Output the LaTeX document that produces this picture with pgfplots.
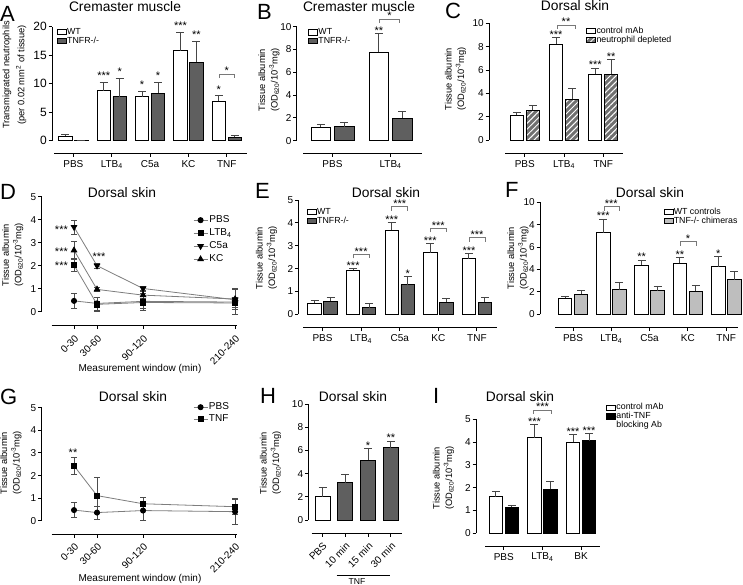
\documentclass[border=0pt]{standalone}
\usepackage{fontspec}
\setmainfont{Liberation Sans}
\usepackage{pgfplots}
\pgfplotsset{compat=1.18}
\usetikzlibrary{patterns.meta}

\definecolor{darkbar}{RGB}{95,95,95}
\definecolor{lightbar}{RGB}{190,190,190}
\definecolor{hatchbar}{RGB}{112,112,112}
\definecolor{linegray}{RGB}{125,125,125}
\definecolor{brk}{RGB}{120,120,120}
\definecolor{errc}{RGB}{70,70,70}

\newcommand{\fsz}[1]{\fontsize{#1}{#1}\selectfont}
% stars just above a point
\newcommand{\st}[3]{\node[font=\fsz{11}, inner sep=0pt, anchor=base] at ([xshift=#1, yshift=-0.8pt]axis cs:#2) {#3};}
% stars centred on a point
\newcommand{\stc}[4]{\node[font=\fsz{11}, inner sep=0pt, anchor=#1] at ([xshift=#2, yshift=-6.4pt]axis cs:#3) {#4};}
% significance bracket
\newcommand{\sigbr}[4]{\draw[brk, line width=0.7pt] ([xshift=#1, yshift=-4pt]axis cs:#3,#4) -- ([xshift=#1]axis cs:#3,#4) -- ([xshift=#2]axis cs:#3,#4) -- ([xshift=#2, yshift=-4pt]axis cs:#3,#4);}

\pgfplotsset{
  prism/.style={
    scale only axis, anchor=south west,
    axis x line*=bottom, axis y line*=left,
    axis line style={line width=0.9pt, black},
    x axis line style={-}, y axis line style={-},
    tick align=outside, major tick length=3.5pt,
    tick style={line width=0.9pt, black},
    tick label style={font=\fsz{10}},
    yticklabel style={inner sep=1.5pt},
    /pgf/number format/assume math mode=true,
    enlargelimits=false, clip=false,
  },
  prismbar/.style={prism, ybar, bar width=13.5pt,
    legend image code/.code={\draw[##1] (0pt,-2.6pt) rectangle (9pt,2.6pt);},
    legend style={draw=none, fill=none, font=\fsz{8.8}, inner sep=0pt, row sep=0pt,
      nodes={inner sep=0.4pt, text height=6.4pt, text depth=1.6pt}, anchor=north west},
    legend cell align=left,
  },
  linlegend/.style={
    legend image code/.code={\draw[mark repeat=2, mark phase=2, ##1] plot coordinates {(0pt,0pt) (7pt,0pt) (14pt,0pt)};},
    legend style={draw=none, fill=none, font=\fsz{10}, inner sep=0pt, row sep=0pt,
      nodes={inner sep=1.5pt, text height=7.5pt, text depth=2.5pt}, anchor=north west},
    legend cell align=left,
  },
  wbar/.style={draw=black, line width=0.9pt, fill=white},
  dbar/.style={draw=black, line width=0.9pt, fill=darkbar},
  lbar/.style={draw=black, line width=0.9pt, fill=lightbar},
  kbar/.style={draw=black, line width=0.9pt, fill=black},
  hbar/.style={draw=black, line width=0.9pt, preaction={fill=hatchbar},
    pattern={Lines[angle=45, distance=4.2pt, line width=1pt]}, pattern color=white},
  ebar/.style={error bars/y dir=plus, error bars/y explicit,
    error bars/error bar style={line width=0.9pt, errc},
    error bars/error mark options={rotate=90, line width=0.9pt, errc, mark size=4pt}},
  lin/.style={color=linegray, line width=0.8pt, mark size=2.6pt,
    error bars/y dir=both, error bars/y explicit,
    error bars/error bar style={line width=0.6pt, black!70},
    error bars/error mark options={rotate=90, line width=0.6pt, black!70, mark size=3pt}},
}

\begin{document}
\begin{tikzpicture}
\useasboundingbox (0pt,0pt) rectangle (743pt,-585pt);

% ---------------- A ----------------
\begin{axis}[prismbar, at={(52pt,-153.3pt)}, width=195pt, height=126.6pt,
  xmin=-0.558, xmax=4.527, ymin=-2.21, ymax=20, ytick={0,5,10,15,20},
  yticklabel style={font=\fsz{12}},
  xtick={0,1,2,3,4}, xticklabels={PBS,LTB\textsubscript{4},C5a,KC,TNF},
  x axis line style={shorten <=2pt}, y axis line style={shorten <=12.6pt},
  legend style={at={(0.024,0.994)}}]
\addplot[wbar, ebar, bar shift=-8pt] coordinates {(0,0.82) +- (0,0.29) (1,8.77) +- (0,1.52) (2,7.72) +- (0,0.88) (3,15.79) +- (0,3.21) (4,6.96) +- (0,0.93)};
\addlegendentry{WT}
\addplot[dbar, ebar, bar shift=8pt] coordinates {(0,0.05) +- (0,0) (1,7.72) +- (0,3.22) (2,8.3) +- (0,1.93) (3,13.8) +- (0,3.57) (4,0.58) +- (0,0.41)};
\addlegendentry{TNFR-/-}
\st{-8pt}{1,10.9}{***}
\st{8pt}{1,11.6}{*}
\st{-8pt}{2,9.3}{*}
\st{8pt}{2,10.9}{*}
\st{-8pt}{3,19.6}{***}
\st{8pt}{3,18.0}{**}
\st{-8pt}{4,8.5}{*}
\sigbr{-7.5pt}{7.5pt}{4}{11.7}
\st{0pt}{4,11.7}{*}
\end{axis}

% ---------------- B ----------------
\begin{axis}[prismbar, at={(296.7pt,-153.3pt)}, width=125pt, height=126.6pt,
  xmin=-0.616, xmax=1.535, ymin=-1.105, ymax=10, ytick={0,2,4,6,8,10},
  xtick={0,1}, xticklabels={PBS,LTB\textsubscript{4}}, bar width=19.5pt,
  x axis line style={shorten <=6.3pt}, y axis line style={shorten <=12.6pt},
  legend style={at={(0.09,0.991)}}]
\addplot[wbar, ebar, bar shift=-11.7pt] coordinates {(0,1.18) +- (0,0.28) (1,7.75) +- (0,1.67)};
\addlegendentry{WT}
\addplot[dbar, ebar, bar shift=11.7pt] coordinates {(0,1.23) +- (0,0.38) (1,1.99) +- (0,0.55)};
\addlegendentry{TNFR-/-}
\st{-11.7pt}{1,9.42}{**}
\sigbr{-11.7pt}{9pt}{1}{10.67}
\st{-1pt}{1,10.67}{*}
\end{axis}

% ---------------- C ----------------
\begin{axis}[prismbar, at={(489pt,-153.3pt)}, width=133.7pt, height=130pt,
  xmin=-0.913, xmax=2.497, ymin=-1.14, ymax=10, ytick={0,2,4,6,8,10},
  xtick={0,1,2}, xticklabels={PBS,LTB\textsubscript{4},TNF}, bar width=13.3pt,
  x axis line style={shorten <=16pt}, y axis line style={shorten <=13.3pt},
  legend style={at={(0.7255,0.975)}}]
\addplot[wbar, ebar, bar shift=-8pt] coordinates {(0,2.14) +- (0,0.26) (1,8.23) +- (0,0.54) (2,5.63) +- (0,0.54)};
\addlegendentry{control mAb}
\addplot[hbar, ebar, bar shift=8pt] coordinates {(0,2.57) +- (0,0.37) (1,3.51) +- (0,0.89) (2,5.63) +- (0,1.28)};
\addlegendentry{neutrophil depleted}
\st{-8pt}{1,8.77}{***}
\sigbr{-7pt}{11pt}{1}{9.85}
\st{2pt}{1,9.85}{**}
\st{-8pt}{2,6.17}{***}
\st{8pt}{2,6.91}{**}
\end{axis}

% ---------------- D ----------------
\begin{axis}[prism, linlegend, at={(41.5pt,-325.7pt)}, width=195.2pt, height=129pt,
  xmin=-27.4, xmax=227.1, ymin=-0.609, ymax=5, ytick={0,1,2,3,4,5},
  xtick={15,45,105,225}, xticklabels={0-30,30-60,90-120,210-240},
  xticklabel style={rotate=45, anchor=north east},
  x axis line style={shorten <=10.2pt}, y axis line style={shorten <=14pt},
  legend style={at={(0.776,0.87)}}]
\addplot[lin, mark=*, mark options={solid, black}] coordinates {(15,0.47) +- (0,0.32) (45,0.36) +- (0,0.28) (105,0.45) +- (0,0.37) (225,0.42) +- (0,0.55)};
\addlegendentry{PBS}
\addplot[lin, mark=square*, mark options={solid, black}] coordinates {(15,2.03) +- (0,0.28) (45,0.32) +- (0,0.3) (105,0.40) +- (0,0.25) (225,0.38) +- (0,0.2)};
\addlegendentry{LTB\textsubscript{4}}
\addplot[lin, mark=triangle*, mark size=3.2pt, mark options={solid, black, rotate=180}] coordinates {(15,3.68) +- (0,0.3) (45,2.0) +- (0,0.1) (105,1.01) +- (0,0.1) (225,0.52) +- (0,0.1)};
\addlegendentry{C5a}
\addplot[lin, mark=triangle*, mark size=3.2pt, mark options={solid, black}] coordinates {(15,2.67) +- (0,0.4) (45,0.97) +- (0,0.1) (105,0.72) +- (0,0.15) (225,0.55) +- (0,0.45)};
\addlegendentry{KC}
\stc{base east}{-6pt}{15,3.68}{***}
\stc{base east}{-6pt}{15,2.71}{***}
\stc{base east}{-6pt}{15,2.1}{***}
\stc{base}{2pt}{45,2.5}{***}
\end{axis}

% ---------------- E ----------------
\begin{axis}[prismbar, at={(298.3pt,-327.7pt)}, width=198.7pt, height=127.7pt,
  xmin=-0.627, xmax=4.52, ymin=-0.586, ymax=5, ytick={0,1,2,3,4,5},
  xtick={0,1,2,3,4}, xticklabels={PBS,LTB\textsubscript{4},C5a,KC,TNF},
  x axis line style={shorten <=5pt}, y axis line style={shorten <=13.4pt},
  legend style={at={(0.042,0.941)}}]
\addplot[wbar, ebar, bar shift=-8pt] coordinates {(0,0.48) +- (0,0.13) (1,1.93) +- (0,0.08) (2,3.68) +- (0,0.33) (3,2.69) +- (0,0.40) (4,2.44) +- (0,0.22)};
\addlegendentry{WT}
\addplot[dbar, ebar, bar shift=8pt] coordinates {(0,0.58) +- (0,0.16) (1,0.29) +- (0,0.18) (2,1.30) +- (0,0.36) (3,0.53) +- (0,0.16) (4,0.53) +- (0,0.20)};
\addlegendentry{TNFR-/-}
\st{-8pt}{1,2.01}{***}
\sigbr{-8pt}{8pt}{1}{2.62}
\st{0pt}{1,2.62}{***}
\st{-8pt}{2,4.01}{***}
\sigbr{-8pt}{8pt}{2}{4.71}
\st{0pt}{2,4.71}{***}
\st{8pt}{2,1.66}{*}
\st{-8pt}{3,3.09}{***}
\sigbr{-8pt}{8pt}{3}{3.76}
\st{0pt}{3,3.76}{***}
\st{-8pt}{4,2.66}{***}
\sigbr{-8pt}{8pt}{4}{3.35}
\st{0pt}{4,3.35}{***}
\end{axis}

% ---------------- F ----------------
\begin{axis}[prismbar, at={(540pt,-327.7pt)}, width=198pt, height=125.4pt,
  xmin=-0.862, xmax=4.308, ymin=-1.196, ymax=10, ytick={0,2,4,6,8,10},
  yticklabels={0,2,4,6,4,10},
  xtick={0,1,2,3,4}, xticklabels={PBS,LTB\textsubscript{4},C5a,KC,TNF},
  x axis line style={shorten <=15pt}, y axis line style={shorten <=13.4pt},
  legend style={at={(0.623,0.958)}}]
\addplot[wbar, ebar, bar shift=-8pt] coordinates {(0,1.43) +- (0,0.15) (1,7.29) +- (0,1.22) (2,4.40) +- (0,0.45) (3,4.55) +- (0,0.51) (4,4.23) +- (0,0.95)};
\addlegendentry{WT controls}
\addplot[lbar, ebar, bar shift=8pt] coordinates {(0,1.79) +- (0,0.35) (1,2.20) +- (0,0.66) (2,2.11) +- (0,0.42) (3,2.08) +- (0,0.51) (4,3.07) +- (0,0.74)};
\addlegendentry{TNF-/- chimeras}
\st{-8pt}{1,8.51}{***}
\sigbr{-7pt}{8pt}{1}{9.61}
\st{0pt}{1,9.61}{***}
\st{-8pt}{2,4.85}{**}
\st{-8pt}{3,5.06}{**}
\sigbr{-8pt}{8pt}{3}{6.48}
\st{0pt}{3,6.48}{*}
\st{-8pt}{4,5.18}{*}
\end{axis}

% ---------------- G ----------------
\begin{axis}[prism, linlegend, at={(41.5pt,-534pt)}, width=195.2pt, height=126.3pt,
  xmin=-27.4, xmax=227.1, ymin=-0.588, ymax=5, ytick={0,1,2,3,4,5},
  xtick={15,45,105,225}, xticklabels={0-30,30-60,90-120,210-240},
  xticklabel style={rotate=45, anchor=north east},
  x axis line style={shorten <=10.2pt}, y axis line style={shorten <=13.3pt},
  legend style={at={(0.776,1.053)}, nodes={inner sep=1pt}}]
\addplot[lin, mark=*, mark options={solid, black}] coordinates {(15,0.47) +- (0,0.33) (45,0.36) +- (0,0.28) (105,0.45) +- (0,0.42) (225,0.40) +- (0,0.55)};
\addlegendentry{PBS}
\addplot[lin, mark=square*, mark options={solid, black}] coordinates {(15,2.43) +- (0,0.39) (45,1.11) +- (0,0.8) (105,0.75) +- (0,0.27) (225,0.62) +- (0,0.35)};
\addlegendentry{TNF}
\stc{base}{-1pt}{15,3.13}{**}
\end{axis}

% ---------------- H ----------------
\begin{axis}[prismbar, at={(308.3pt,-533.3pt)}, width=93.4pt, height=129.3pt,
  xmin=-0.623, xmax=3.474, ymin=-1.147, ymax=10, ytick={0,2,4,6,8,10},
  xtick={0,1,2,3}, xticklabels={PBS,10 min,15 min,30 min}, bar width=15pt,
  xticklabel style={rotate=45, anchor=north east},
  x axis line style={shorten <=3.4pt}, y axis line style={shorten <=13.3pt}]
\addplot[wbar, ebar, bar shift=0pt] coordinates {(0,2.01) +- (0,0.81)};
\addplot[dbar, ebar, bar shift=0pt] coordinates {(1,3.22) +- (0,0.75) (2,5.17) +- (0,0.98) (3,6.24) +- (0,0.57)};
\st{0pt}{2,6.15}{*}
\st{0pt}{3,6.81}{**}
\end{axis}

% ---------------- I ----------------
\begin{axis}[prismbar, at={(476pt,-546pt)}, width=124pt, height=126.7pt,
  xmin=-0.72, xmax=2.49, ymin=-0.557, ymax=5, ytick={0,1,2,3,4,5},
  xtick={0,1,2}, xticklabels={PBS,LTB\textsubscript{4},BK},
  x axis line style={shorten <=9pt}, y axis line style={shorten <=12.7pt},
  legend style={at={(1.048,1.129)}}]
\addplot[wbar, ebar, bar shift=-8pt] coordinates {(0,1.61) +- (0,0.22) (1,4.19) +- (0,0.59) (2,3.99) +- (0,0.35)};
\addlegendentry{control mAb}
\addplot[kbar, ebar, bar shift=8pt] coordinates {(0,1.14) +- (0,0.10) (1,1.93) +- (0,0.36) (2,4.06) +- (0,0.33)};
\addlegendentry{anti-TNF}
\addlegendimage{empty legend}
\addlegendentry{blocking Ab}
\st{-8pt}{1,4.78}{***}
\sigbr{-9pt}{9pt}{1}{5.41}
\st{0pt}{1,5.41}{***}
\st{-8pt}{2,4.34}{***}
\st{8pt}{2,4.39}{***}
\end{axis}

% ---------------- letters, titles, labels ----------------
\begin{scope}[every node/.style={inner sep=0pt}]
\node[anchor=base west, font=\fsz{22}] at (0pt,-21.5pt) {A};
\node[anchor=base west, font=\fsz{22}] at (257pt,-20pt) {B};
\node[anchor=base west, font=\fsz{22}] at (445pt,-18.5pt) {C};
\node[anchor=base west, font=\fsz{22}] at (0pt,-200pt) {D};
\node[anchor=base west, font=\fsz{22}] at (255pt,-199pt) {E};
\node[anchor=base west, font=\fsz{22}] at (505pt,-198pt) {F};
\node[anchor=base west, font=\fsz{22}] at (0pt,-404.5pt) {G};
\node[anchor=base west, font=\fsz{22}] at (260pt,-403pt) {H};
\node[anchor=base west, font=\fsz{22}] at (433pt,-403pt) {I};

\node[anchor=base, font=\fsz{13.8}] at (125pt,-12pt) {Cremaster muscle};
\node[anchor=base, font=\fsz{13.8}] at (359pt,-12pt) {Cremaster muscle};
\node[anchor=base, font=\fsz{13.8}] at (575pt,-11pt) {Dorsal skin};
\node[anchor=base, font=\fsz{13.8}] at (122pt,-197pt) {Dorsal skin};
\node[anchor=base, font=\fsz{13.8}] at (386pt,-197pt) {Dorsal skin};
\node[anchor=base, font=\fsz{13.8}] at (650pt,-197pt) {Dorsal skin};
\node[anchor=base, font=\fsz{13.8}] at (133pt,-401pt) {Dorsal skin};
\node[anchor=base, font=\fsz{13.8}] at (353pt,-401pt) {Dorsal skin};
\node[anchor=base, font=\fsz{13.8}] at (520pt,-401pt) {Dorsal skin};

\node[rotate=90, align=center, font=\fontsize{9.3}{15}\selectfont] at (14.5pt,-75pt) {Transmigrated neutrophils\\(per 0.02 mm\textsuperscript{2} of tissue)};
\node[rotate=90, align=center, font=\fontsize{9.3}{12.5}\selectfont] at (269pt,-80pt) {Tissue albumin\\(OD\textsubscript{620}/10\textsuperscript{-3}mg)};
\node[rotate=90, align=center, font=\fontsize{9.3}{12.5}\selectfont] at (455.5pt,-79pt) {Tissue albumin\\(OD\textsubscript{620}/10\textsuperscript{-3}mg)};
\node[rotate=90, align=center, font=\fontsize{9.3}{12.5}\selectfont] at (12.8pt,-255pt) {Tissue albumin\\(OD\textsubscript{620}/10\textsuperscript{-3}mg)};
\node[rotate=90, align=center, font=\fontsize{9.3}{12.5}\selectfont] at (266.5pt,-258pt) {Tissue albumin\\(OD\textsubscript{620}/10\textsuperscript{-3}mg)};
\node[rotate=90, align=center, font=\fontsize{9.3}{12.5}\selectfont] at (518pt,-258pt) {Tissue albumin\\(OD\textsubscript{620}/10\textsuperscript{-3}mg)};
\node[rotate=90, align=center, font=\fontsize{9.3}{12.5}\selectfont] at (11pt,-463pt) {Tissue albumin\\(OD\textsubscript{620}/10\textsuperscript{-3}mg)};
\node[rotate=90, align=center, font=\fontsize{9.3}{12.5}\selectfont] at (270.5pt,-463pt) {Tissue albumin\\(OD\textsubscript{620}/10\textsuperscript{-3}mg)};
\node[rotate=90, align=center, font=\fontsize{9.3}{12.5}\selectfont] at (443.5pt,-478pt) {Tissue albumin\\(OD\textsubscript{620}/10\textsuperscript{-3}mg)};

\node[anchor=base, font=\fsz{10}] at (140pt,-371pt) {Measurement window (min)};
\node[anchor=base, font=\fsz{10}] at (140pt,-581pt) {Measurement window (min)};

\draw[line width=0.9pt] (336.7pt,-575pt) -- (390pt,-575pt);
\node[anchor=base, font=\fsz{8.6}] at (357pt,-584.3pt) {TNF};
\end{scope}
\end{tikzpicture}
\end{document}
